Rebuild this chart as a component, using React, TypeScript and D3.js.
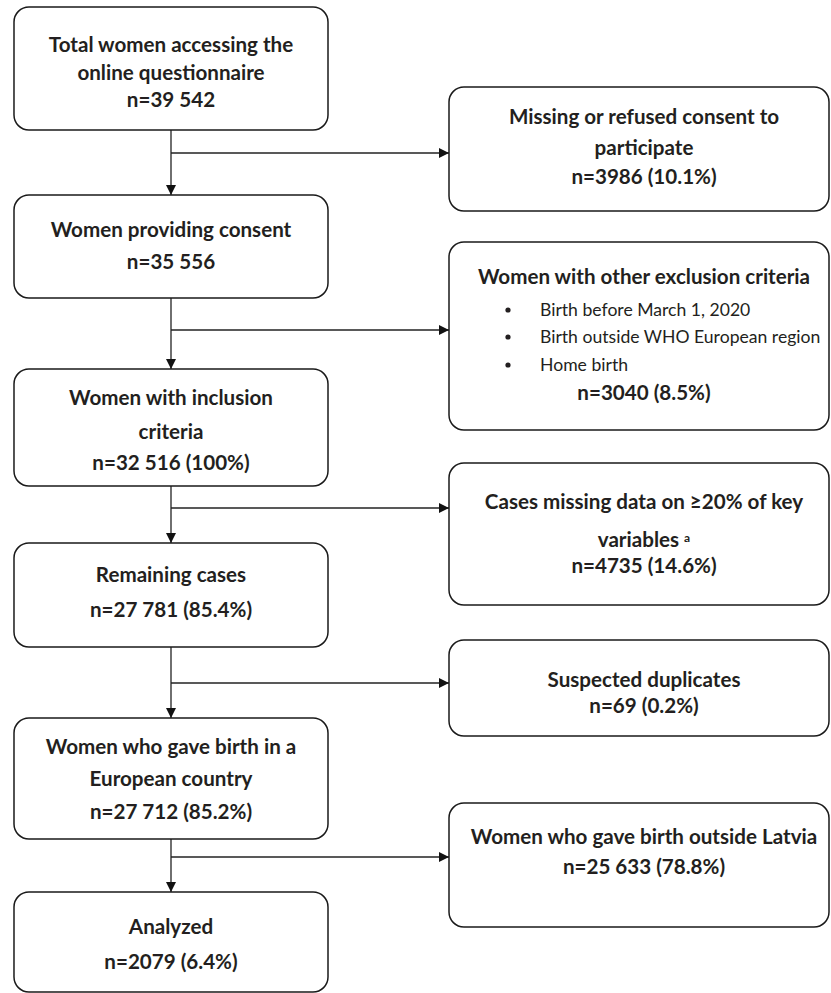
import React, { useEffect, useRef } from "react";
import * as d3 from "d3";

// ---- data ----
const leftTitles: string[][] = [
  ["Total women accessing the", "online questionnaire"],
  ["Women providing consent"],
  ["Women with inclusion", "criteria"],
  ["Remaining cases"],
  ["Women who gave birth in a", "European country"],
  ["Analyzed"],
];
const leftCounts: string[] = [
  "n=39 542",
  "n=35 556",
  "n=32 516 (100%)",
  "n=27 781 (85.4%)",
  "n=27 712 (85.2%)",
  "n=2079 (6.4%)",
];
const rightTitles: string[][] = [
  ["Missing or refused consent to", "participate"],
  ["Women with other exclusion criteria"],
  ["Cases missing data on ≥20% of key", "variables"],
  ["Suspected duplicates"],
  ["Women who gave birth outside Latvia"],
];
const rightCounts: string[] = [
  "n=3986 (10.1%)",
  "n=3040 (8.5%)",
  "n=4735 (14.6%)",
  "n=69 (0.2%)",
  "n=25 633 (78.8%)",
];
const exclusionBullets: string[] = [
  "Birth before March 1, 2020",
  "Birth outside WHO European region",
  "Home birth",
];

// ---- layout ----
const W = 831, H = 993;
const LX = 14, LW = 314;
const RX = 449, RW = 380;
const leftY = [[7, 130], [195, 298], [369, 486], [543, 647], [718, 839], [892, 992]];
const leftLines = [[45, 73, 100], [230, 262], [398, 432, 463], [575, 610], [747, 779, 812], [927, 962]];
const rightY = [[87, 211], [242, 430], [463, 605], [640, 736], [803, 927]];
const rightLines = [[117, 148, 177], [277, 393], [502, 540, 566], [680, 706], [837, 867]];
const bulletLines = [310, 337, 365];
const branchY = [153, 330, 508, 683, 857];

const FONT = "Lato, 'Open Sans', sans-serif";
const TEXT = "#231f20";
const FS = 20.6;
const FS_BULLET = 17.6;

export default function App() {
  const ref = useRef<SVGSVGElement>(null);
  useEffect(() => {
    const svg = d3.select(ref.current);
    svg.selectAll("*").remove();
    const defs = svg.append("defs");
    defs.append("marker")
      .attr("id", "arr")
      .attr("viewBox", "0 0 10 10")
      .attr("refX", 10).attr("refY", 5)
      .attr("markerWidth", 11).attr("markerHeight", 10)
      .attr("markerUnits", "userSpaceOnUse")
      .attr("orient", "auto")
      .append("path").attr("d", "M0,0L10,5L0,10Z").attr("fill", "#111");

    const cx = LX + LW / 2;
    const line = d3.line();

    for (let i = 0; i < leftY.length - 1; i++) {
      svg.append("path")
        .attr("d", line([[cx, leftY[i][1]], [cx, leftY[i + 1][0]]]))
        .attr("stroke", "#222").attr("stroke-width", 1.3).attr("fill", "none")
        .attr("marker-end", "url(#arr)");
      svg.append("path")
        .attr("d", line([[cx, branchY[i]], [RX, branchY[i]]]))
        .attr("stroke", "#222").attr("stroke-width", 1.3).attr("fill", "none")
        .attr("marker-end", "url(#arr)");
    }

    const box = (x: number, y0: number, y1: number, w: number) =>
      svg.append("rect")
        .attr("x", x).attr("y", y0).attr("width", w).attr("height", y1 - y0)
        .attr("rx", 15).attr("ry", 15)
        .attr("fill", "#fff").attr("stroke", "#1a1a1a").attr("stroke-width", 1.5);

    const txt = (x: number, y: number, s: string, weight: number, size: number, anchor = "middle") =>
      svg.append("text")
        .attr("x", x).attr("y", y).attr("dy", "0.35em")
        .attr("text-anchor", anchor)
        .attr("font-family", FONT).attr("font-weight", weight).attr("font-size", size)
        .attr("fill", TEXT).text(s);

    leftTitles.forEach((t, i) => {
      box(LX, leftY[i][0], leftY[i][1], LW);
      const lines = [...t, leftCounts[i]];
      lines.forEach((s, j) => txt(cx, leftLines[i][j], s, 700, FS));
    });

    const rcx = RX + RW / 2 + 5;
    rightTitles.forEach((t, i) => {
      box(RX, rightY[i][0], rightY[i][1], RW);
      const lines = [...t, rightCounts[i]];
      lines.forEach((s, j) => {
        const el = txt(rcx, rightLines[i][j], s, 700, FS);
        if (i === 2 && j === 1) {
          el.append("tspan").attr("dx", 5).attr("dy", "-0.45em").attr("font-size", 12).text("a");
        }
      });
      if (i === 1) {
        exclusionBullets.forEach((b, k) => {
          svg.append("circle").attr("cx", 508).attr("cy", bulletLines[k]).attr("r", 2.6).attr("fill", TEXT);
          txt(540, bulletLines[k], b, 400, FS_BULLET, "start");
        });
      }
    });
  }, []);
  return (
    <svg ref={ref} width={W} height={H} style={{ position: "absolute", left: 0, top: 0, background: "#fff" }} />
  );
}
